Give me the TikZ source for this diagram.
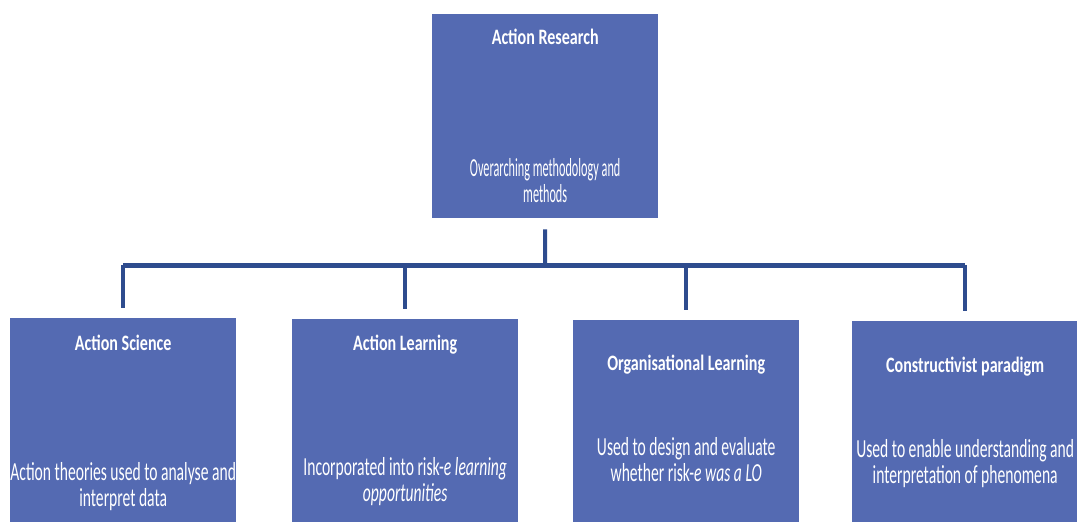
\documentclass[tikz,border=0pt]{standalone}
\usepackage{fontspec}
\setmainfont{Carlito}
\usetikzlibrary{calc}
\definecolor{boxblue}{RGB}{84,106,178}
\definecolor{linkblue}{RGB}{46,76,142}
\newcommand{\ttltxt}[1]{\scalebox{0.73}[1]{#1}}
\newcommand{\bodytxt}[3][0.6]{\scalebox{#1}[1]{\begin{tabular}{@{}c@{}}#2\\#3\end{tabular}}}
\begin{document}
\begin{tikzpicture}[x=1pt,y=-1pt,
  box/.style={fill=boxblue, draw=none, minimum width=226pt, inner sep=0pt, anchor=north west},
  ttl/.style={text=white, font=\bfseries\fontsize{22}{24}\selectfont, inner sep=0pt},
  bdy/.style={text=white, font=\fontsize{26}{25}\selectfont, inner sep=0pt},
  link/.style={draw=linkblue, line width=4pt}]
\useasboundingbox (0,0) rectangle (1077,522);
\clip (0,0) rectangle (1077,522);
% boxes
\node[box, minimum height=204pt] (top) at (432,14) {};
\node[box, minimum height=210pt] (b1) at (10,318) {};
\node[box, minimum height=210pt] (b2) at (292,319) {};
\node[box, minimum height=210pt] (b3) at (573,320) {};
\node[box, minimum height=210pt] (b4) at (852,321) {};
% texts
\node[ttl] (topt) at ([yshift=-23pt]top.north) {\ttltxt{Action Research}};
\node[bdy] (topb) at ([yshift=-170pt]top.north) {\bodytxt[0.47]{Overarching methodology and}{methods}};
\node[ttl] (b1t) at ([yshift=-25pt]b1.north) {\ttltxt{Action Science}};
\node[bdy] (b1b) at ([yshift=-170pt]b1.north) {\bodytxt{Action theories used to analyse and}{interpret data}};
\node[ttl] (b2t) at ([yshift=-26pt]b2.north) {\ttltxt{Action Learning}};
\node[bdy] (b2b) at ([yshift=-164pt]b2.north) {\bodytxt{Incorporated into risk-\textit{e learning}}{\textit{opportunities}}};
\node[ttl] (b3t) at ([yshift=-45pt]b3.north) {\ttltxt{Organisational Learning}};
\node[bdy] (b3b) at ([yshift=-143pt]b3.north) {\bodytxt{Used to design and evaluate}{whether risk-\textit{e was a LO}}};
\node[ttl] (b4t) at ([yshift=-46pt]b4.north) {\ttltxt{Constructivist paradigm}};
\node[bdy] (b4b) at ([yshift=-144pt]b4.north) {\bodytxt{Used to enable understanding and}{interpretation of phenomena}};
% connectors
\coordinate (bar) at (545,265);
\draw[link] ([yshift=-11pt]top.south) -- (bar);
\draw[link, line width=5pt] (b1.north |- bar) -- (b4.north |- bar);
\foreach \b in {b1,b2,b3,b4}{
  \draw[link] (\b.north |- bar) -- ([yshift=10pt]\b.north);
}
\end{tikzpicture}
\end{document}
